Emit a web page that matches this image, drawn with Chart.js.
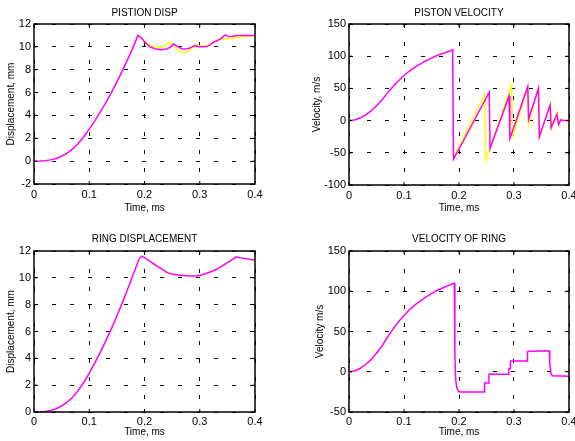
<!DOCTYPE html>
<html>
<head>
<meta charset="utf-8">
<script src="https://cdn.jsdelivr.net/npm/chart.js@4.4.0/dist/chart.umd.min.js"></script>
<style>
  html, body { margin: 0; padding: 0; background: #fff; }
  #wrap { position: relative; width: 575px; height: 441px; overflow: hidden; }
  .cell { position: absolute; }
</style>
</head>
<body>
<div id="wrap">
  <div class="cell" style="left:0;top:0"><canvas id="c1" width="287" height="220"></canvas></div>
  <div class="cell" style="left:287px;top:0"><canvas id="c2" width="288" height="220"></canvas></div>
  <div class="cell" style="left:0;top:220px"><canvas id="c3" width="287" height="221"></canvas></div>
  <div class="cell" style="left:287px;top:220px"><canvas id="c4" width="288" height="221"></canvas></div>
</div>
<script>
// tick values
const timeTicks = [0, 0.1, 0.2, 0.3, 0.4];
const timeTickLabels = ['0', '0.1', '0.2', '0.3', '0.4'];
const pistonDispTicks = [-2, 0, 2, 4, 6, 8, 10, 12];
const pistonVelTicks = [-100, -50, 0, 50, 100, 150];
const ringDispTicks = [0, 2, 4, 6, 8, 10, 12];
const ringVelTicks = [-50, 0, 50, 100, 150];

// piston displacement (mm)
const pdMagT = [0, 0.01, 0.02, 0.03, 0.04, 0.05, 0.06, 0.07, 0.08, 0.09, 0.10, 0.11, 0.12, 0.13, 0.14, 0.15, 0.16, 0.17, 0.18, 0.188,
  0.195, 0.20, 0.21, 0.22, 0.23, 0.24, 0.247, 0.2525, 0.26, 0.268, 0.278, 0.285, 0.291, 0.298, 0.31, 0.318, 0.327, 0.336, 0.342, 0.346, 0.352, 0.36, 0.367, 0.38, 0.4];
const pdMag = [0, 0.01, 0.04, 0.11, 0.23, 0.43, 0.70, 1.07, 1.55, 2.13, 2.80, 3.53, 4.31, 5.13, 6.00, 6.94, 7.92, 8.95, 10.02, 11.0,
  10.75, 10.45, 10.0, 9.82, 9.74, 9.82, 9.98, 10.25, 10.05, 9.82, 9.83, 9.95, 10.14, 10.0, 10.0, 10.15, 10.45, 10.65, 10.85, 11.05, 10.9, 10.92, 11.0, 11.0, 11.0];
const pdYelT = [0.188, 0.195, 0.20, 0.21, 0.22, 0.23, 0.238, 0.245, 0.252, 0.26, 0.27, 0.277, 0.285, 0.294, 0.30, 0.31, 0.32, 0.327, 0.336, 0.4];
const pdYel = [11.0, 10.75, 10.5, 10.12, 10.0, 9.98, 10.1, 10.4, 10.1, 9.75, 9.5, 9.52, 9.85, 10.15, 10.1, 10.05, 10.22, 10.45, 10.65, 11.0];

// piston velocity (m/s)
const pvMagT = [0, 0.01, 0.02, 0.03, 0.04, 0.05, 0.06, 0.07, 0.08, 0.09, 0.10, 0.11, 0.12, 0.13, 0.14, 0.15, 0.16, 0.17, 0.18, 0.1885,
  0.19, 0.255, 0.2565, 0.291, 0.2925, 0.325, 0.3265, 0.3445, 0.346, 0.3655, 0.3675, 0.378, 0.381, 0.385, 0.39, 0.4];
const pvMag = [0, 1, 4, 9, 15, 23, 32, 43, 53, 62, 70, 77, 83, 88, 93, 97, 101, 104, 107, 110,
  -60, 44, -43, 38, -28, 53, 2, 50, -25, 24, -11, 10, -6, 1, 0, 0];
const pvYelT = [0.19, 0.247, 0.2485, 0.2955, 0.297, 0.325, 0.3265, 0.3445, 0.346, 0.3665, 0.3685, 0.379, 0.3815, 0.385, 0.39, 0.4];
const pvYel = [-58, 41, -61, 55, -26, 50, -5, 51, -27, 27, -12, 12, -5, 1, 0, 0];

// ring displacement (mm)
const rdT = [0, 0.01, 0.02, 0.03, 0.04, 0.05, 0.06, 0.07, 0.08, 0.09, 0.10, 0.11, 0.12, 0.13, 0.14, 0.15, 0.16, 0.17, 0.18, 0.19, 0.195,
  0.20, 0.22, 0.24, 0.245, 0.25, 0.26, 0.27, 0.28, 0.29, 0.30, 0.31, 0.32, 0.33, 0.34, 0.35, 0.36, 0.365, 0.37, 0.38, 0.39, 0.4];
const rd = [0, 0.01, 0.04, 0.11, 0.24, 0.45, 0.73, 1.1, 1.6, 2.2, 2.9, 3.65, 4.45, 5.3, 6.2, 7.15, 8.15, 9.2, 10.3, 11.4, 11.62,
  11.5, 10.95, 10.42, 10.33, 10.28, 10.22, 10.17, 10.14, 10.13, 10.17, 10.3, 10.45, 10.62, 10.88, 11.14, 11.4, 11.55, 11.52, 11.45, 11.38, 11.32];

// ring velocity (m/s)
const rvT = [0, 0.01, 0.02, 0.03, 0.04, 0.05, 0.06, 0.07, 0.08, 0.09, 0.10, 0.11, 0.12, 0.13, 0.14, 0.15, 0.16, 0.17, 0.18, 0.19, 0.1915,
  0.1925, 0.194, 0.196, 0.199, 0.202, 0.246, 0.2465, 0.254, 0.2545, 0.2905, 0.291, 0.293, 0.2935, 0.324, 0.3245, 0.33, 0.364, 0.365, 0.367, 0.37, 0.4];
const rv = [0, 1, 4, 9, 15, 23, 32, 43, 53, 62, 70, 77, 83, 88, 93, 97, 101, 104, 107, 110, 110,
  20, -10, -20, -24, -25, -25, -14, -14, -3, -3, 4, 4, 13.5, 13.5, 25, 25.5, 26, 10, -2, -5, -5.5];

const MAGENTA = '#ff00ff';
const YELLOW = '#ffff00';
Chart.defaults.font.family = '"Liberation Sans", Arial, sans-serif';
Chart.defaults.color = '#000';

function pts(t, v) {
  return t.map((x, i) => ({ x: x, y: v[i] }));
}

function line(t, v, color) {
  return { data: pts(t, v), borderColor: color, borderWidth: 1.5, pointRadius: 0, tension: 0, fill: false };
}

// box round the plot and small inward ticks, like the original figure
const boxPlugin = {
  id: 'box',
  afterDatasetsDraw(chart) {
    const { ctx, chartArea: a, scales } = chart;
    ctx.save();
    ctx.strokeStyle = '#000';
    ctx.lineWidth = 1;
    ctx.beginPath();
    scales.x.ticks.forEach(tk => {
      const px = scales.x.getPixelForValue(tk.value);
      ctx.moveTo(px, a.bottom); ctx.lineTo(px, a.bottom - 3);
      ctx.moveTo(px, a.top); ctx.lineTo(px, a.top + 3);
    });
    scales.y.ticks.forEach(tk => {
      const py = scales.y.getPixelForValue(tk.value);
      ctx.moveTo(a.left, py); ctx.lineTo(a.left + 3, py);
      ctx.moveTo(a.right, py); ctx.lineTo(a.right - 3, py);
    });
    ctx.stroke();
    ctx.lineWidth = 1.5;
    ctx.strokeRect(a.left, a.top, a.right - a.left, a.bottom - a.top);
    ctx.restore();
  }
};

function makeChart(id, g, title, yTitle, yTicks, datasets) {
  return new Chart(document.getElementById(id), {
    type: 'line',
    data: { datasets: datasets },
    options: {
      responsive: false,
      animation: false,
      layout: { padding: { left: 0, right: g.W - g.r, top: 0, bottom: 0 } },
      plugins: {
        legend: { display: false },
        tooltip: { enabled: false },
        title: {
          display: true, text: title, fullSize: false, color: '#000',
          font: { size: 10, weight: 'normal' },
          padding: { top: g.titleY - 6, bottom: g.t - g.titleY - 6 }
        }
      },
      scales: {
        x: {
          type: 'linear', min: 0, max: 0.4,
          afterBuildTicks: s => { s.ticks = timeTicks.map(v => ({ value: v })); },
          afterFit: s => { s.height = g.H - g.b; s.paddingLeft = 0; s.paddingRight = 0; },
          ticks: {
            padding: g.xPad, font: { size: 11 }, color: '#000', maxRotation: 0,
            callback: (v, i) => timeTickLabels[i]
          },
          grid: { color: '#000', lineWidth: 1, drawTicks: false },
          border: { display: false, dash: [4, 14] },
          title: { display: true, text: 'Time, ms', color: '#000', font: { size: 10 }, padding: { top: 0, bottom: g.H - g.xTitleY - 6 } }
        },
        y: {
          type: 'linear', min: yTicks[0], max: yTicks[yTicks.length - 1],
          afterBuildTicks: s => { s.ticks = yTicks.map(v => ({ value: v })); },
          afterFit: s => { s.width = g.l; s.paddingTop = 0; s.paddingBottom = 0; },
          ticks: { padding: 3, font: { size: 11 }, color: '#000' },
          grid: { color: '#000', lineWidth: 1, drawTicks: false },
          border: { display: false, dash: [4, 14] },
          title: { display: true, text: yTitle, color: '#000', font: { size: 10 }, padding: { top: g.yTitleX - 6, bottom: 0 } }
        }
      }
    },
    plugins: [boxPlugin]
  });
}

const topGeo = { H: 220, t: 24, b: 184, titleY: 13, xTitleY: 208, xPad: 4 };
const botGeo = { H: 221, t: 31, b: 192, titleY: 19, xTitleY: 212.5, xPad: 3 };

makeChart('c1', Object.assign({ W: 287, l: 34, r: 255, yTitleX: 11.5 }, topGeo),
  'PISTION DISP', 'Displacement, mm', pistonDispTicks,
  [line(pdMagT, pdMag, MAGENTA), line(pdYelT, pdYel, YELLOW)]);

makeChart('c2', Object.assign({ W: 288, l: 62, r: 282, yTitleX: 30 }, topGeo, { b: 185 }),
  'PISTON VELOCITY', 'Velocity, m/s', pistonVelTicks,
  [line(pvMagT, pvMag, MAGENTA), line(pvYelT, pvYel, YELLOW)]);

makeChart('c3', Object.assign({ W: 287, l: 34, r: 255, yTitleX: 11 }, botGeo),
  'RING DISPLACEMENT', 'Displacement, mm', ringDispTicks,
  [line(rdT, rd, MAGENTA)]);

makeChart('c4', Object.assign({ W: 288, l: 62, r: 282, yTitleX: 33 }, botGeo),
  'VELOCITY OF RING', 'Velocity m/s', ringVelTicks,
  [line(rvT, rv, MAGENTA)]);
</script>
</body>
</html>
